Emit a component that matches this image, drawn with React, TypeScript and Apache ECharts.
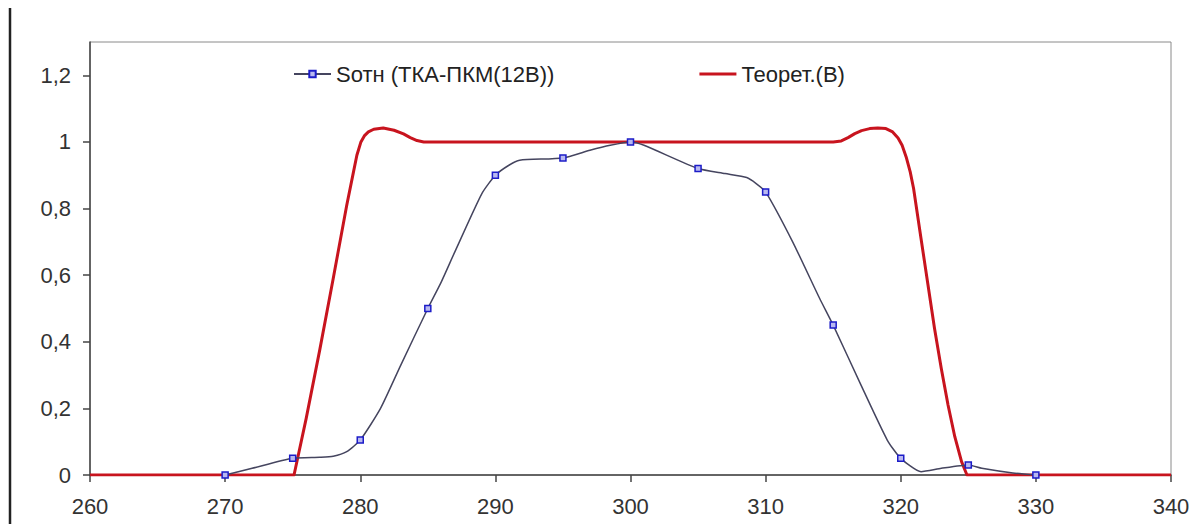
import React, { useEffect, useRef } from "react";
import * as echarts from "echarts";

const sotnName = "Sотн (ТКА-ПКМ(12В))";
const theoName = "Теорет.(В)";

// Measured curve (markers at every 5 units, intermediate points trace the drawn line)
const sotnX = [270, 272, 275, 277, 278, 279, 280, 281.5, 283, 285, 286, 287, 289, 290, 291, 291.8, 295, 297, 298.5, 300, 301, 305, 307, 308.6, 309.3, 310, 312, 314, 315, 317, 319, 320, 321.5, 323, 325, 326, 328.3, 330];
const sotnY = [0, 0.02, 0.05, 0.053, 0.056, 0.07, 0.105, 0.2, 0.33, 0.5, 0.58, 0.67, 0.845, 0.9, 0.93, 0.945, 0.952, 0.975, 0.99, 1.0, 0.99, 0.92, 0.905, 0.893, 0.875, 0.85, 0.7, 0.53, 0.45, 0.275, 0.105, 0.05, 0.01, 0.02, 0.03, 0.02, 0.006, 0];
const sotnMarkerX = [270, 275, 280, 285, 290, 295, 300, 305, 310, 315, 320, 325, 330];

// Theoretical curve
const theoX = [260, 275.1, 276, 277, 278, 279, 279.5, 279.75, 280.05, 280.3, 280.6, 281, 281.7, 282.5, 283.2, 283.7, 284.2, 284.7, 285, 315, 315.6, 316.1, 316.6, 317.1, 317.7, 318.3, 318.9, 319.4, 319.8, 320.1, 320.4, 320.7, 320.95, 321.5, 322, 322.5, 323, 323.5, 324, 324.5, 324.9, 340];
const theoY = [0, 0, 0.17, 0.375, 0.59, 0.81, 0.91, 0.96, 1.0, 1.018, 1.03, 1.038, 1.042, 1.035, 1.024, 1.013, 1.004, 1.0, 1.0, 1.0, 1.003, 1.013, 1.025, 1.034, 1.04, 1.042, 1.04, 1.03, 1.012, 0.99, 0.955, 0.91, 0.86, 0.71, 0.575, 0.44, 0.32, 0.21, 0.115, 0.04, 0, 0];

const yTicks = [0, 0.2, 0.4, 0.6, 0.8, 1, 1.2];
const xMin = 260;
const xMax = 340;
const xStep = 10;
const yMax = 1.3;

const fmt = (v: number) => String(Math.round(v * 10) / 10).replace(".", ",");

export default function App() {
  const ref = useRef<HTMLDivElement>(null);
  useEffect(() => {
    if (!ref.current) return;
    const chart = echarts.init(ref.current, null, { renderer: "svg" });
    const font = "'Liberation Sans', Arial, sans-serif";
    const sotnData = sotnX.map((x, i) =>
      sotnMarkerX.includes(x)
        ? { value: [x, sotnY[i]] }
        : { value: [x, sotnY[i]], symbol: "none" }
    );
    chart.setOption({
      animation: false,
      backgroundColor: "#ffffff",
      grid: {
        left: 90,
        right: 24,
        top: 42,
        bottom: 49,
        show: true,
        borderColor: "#8a8a8a",
        borderWidth: 1,
      },
      legend: {
        data: [
          { name: sotnName },
          { name: theoName, icon: "path://M0,0 L37,0 L37,3 L0,3 Z" },
        ],
        left: 288,
        top: 58,
        itemWidth: 37,
        itemHeight: 8,
        itemGap: 145,
        textStyle: { fontSize: 22, color: "#222", fontFamily: font },
      },
      xAxis: {
        type: "value",
        min: xMin,
        max: xMax,
        interval: xStep,
        splitLine: { show: false },
        axisLine: { lineStyle: { color: "#444", width: 1.5 } },
        axisTick: { length: 7, lineStyle: { color: "#444", width: 1.5 } },
        axisLabel: { fontSize: 22, color: "#333", margin: 20, fontFamily: font },
      },
      yAxis: {
        type: "value",
        min: 0,
        max: yMax,
        splitLine: { show: false },
        axisLine: { show: true, lineStyle: { color: "#444", width: 1.5 } },
        axisTick: { show: true, length: 7, customValues: yTicks, lineStyle: { color: "#444", width: 1.5 } },
        axisLabel: {
          fontSize: 22,
          color: "#333",
          margin: 19,
          fontFamily: font,
          customValues: yTicks,
          formatter: (v: number) => fmt(v),
        },
      },
      graphic: [
        {
          type: "line",
          shape: { x1: 10, y1: 8, x2: 10, y2: 524 },
          style: { stroke: "#222", lineWidth: 2.5 },
        },
      ],
      series: [
        {
          name: theoName,
          type: "line",
          data: theoX.map((x, i) => [x, theoY[i]]),
          smooth: false,
          showSymbol: false,
          symbol: "none",
          lineStyle: { color: "#c8141e", width: 3, join: "round" },
          itemStyle: { color: "#c8141e" },
          z: 2,
        },
        {
          name: sotnName,
          type: "line",
          data: sotnData,
          smooth: 0.2,
          symbol: "rect",
          symbolSize: 6,
          showSymbol: true,
          lineStyle: { color: "#45455f", width: 1.5 },
          itemStyle: { color: "#b8b8f0", borderColor: "#1c1cc8", borderWidth: 1.5 },
          z: 3,
        },
      ],
    });
    return () => chart.dispose();
  }, []);
  return (
    <div
      ref={ref}
      style={{ position: "fixed", left: 0, top: 0, width: 1195, height: 524, background: "#fff" }}
    />
  );
}
